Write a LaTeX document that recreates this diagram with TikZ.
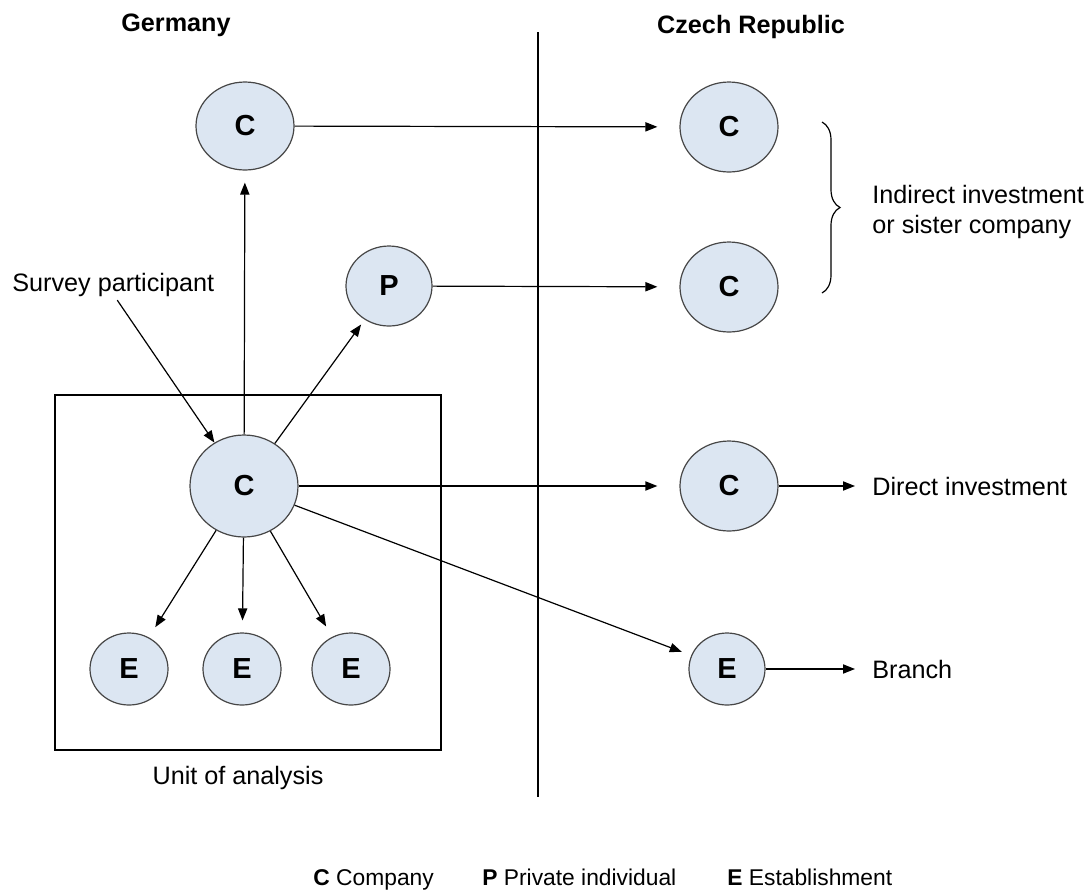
\documentclass[tikz,border=0pt]{standalone}
\usepackage{fontspec}
\setmainfont{Liberation Sans}
\usetikzlibrary{arrows.meta,shapes.geometric,positioning,decorations.pathreplacing}

\definecolor{nodefill}{RGB}{220,230,242}
\definecolor{nodeline}{RGB}{70,70,70}

\tikzset{
  unit/.style={ellipse,draw=nodeline,fill=nodefill,line width=0.6pt,inner sep=0pt,
    font=\fontsize{14.5}{16}\selectfont\bfseries},
  label/.style={font=\fontsize{12.6}{15}\selectfont,inner sep=0pt},
  legend/.style={font=\fontsize{11.4}{14}\selectfont,inner sep=0pt},
  head/.style={font=\fontsize{12.6}{15}\selectfont\bfseries,inner sep=0pt},
  link/.style={-{Triangle[length=6pt,width=4.6pt]},line width=0.6pt}
}

\begin{document}
\begin{tikzpicture}[x=0.5pt,y=-0.5pt]
            \useasboundingbox (0,0) rectangle (1089,891);
            \node[head] (germany) at (176,25) {Germany};
            \node[head] (czech) at (751,27) {Czech Republic};
            \draw[line width=0.6pt] (538,32) -- (538,797);
            \draw[line width=0.6pt] (55,395) rectangle (441,750);
            \node[label] (unit) at (238,778) {Unit of analysis};
            \node[unit,minimum width=49pt,minimum height=44pt] (ctop) at (245,126) {C};
            \node[unit,minimum width=54pt,minimum height=51pt] (cmain) at (244,486) {C};
            \node[unit,minimum width=43pt,minimum height=40pt] (p) at (389,286) {P};
            \node[unit,minimum width=39pt,minimum height=36pt] (e1) at (129,669) {E};
            \node[unit,minimum width=39pt,minimum height=36pt] (e2) at (242,669) {E};
            \node[unit,minimum width=39pt,minimum height=36pt] (e3) at (351,669) {E};
            \node[unit,minimum width=49pt,minimum height=45pt] (cz1) at (729,127) {C};
            \node[unit,minimum width=49pt,minimum height=45pt] (cz2) at (729,287) {C};
            \node[unit,minimum width=49pt,minimum height=45pt] (cz3) at (729,486) {C};
            \node[unit,minimum width=38pt,minimum height=36pt] (ecz) at (727,669) {E};
            \node[label,anchor=west] (survey) at (12,285) {Survey participant};
            \node[label,anchor=west] (direct) at (872,486) {Direct investment};
            \node[label,anchor=west] (branch) at (872,669) {Branch};
            \node[label,anchor=west,align=left] (indirect) at (872,212) {Indirect investment\\or sister company};
            \coordinate (dirend) at (855,486);
            \coordinate (brend) at (855,669);
            \draw[link] ([xshift=2pt,yshift=-1.5pt]survey.south) -- (cmain);
            \draw[link,shorten >=6pt] (cmain) -- (ctop);
            \draw[link,shorten >=3pt] (cmain) -- (p);
            \draw[link,shorten >=11pt] (ctop) -- (cz1);
            \draw[link,shorten >=11pt] (p) -- (cz2);
            \draw[link,shorten >=11pt] (cmain) -- (cz3);
            \draw[link,shorten >=5pt] (cmain) -- (ecz);
            \draw[link,shorten >=6pt] (cmain) -- (e1);
            \draw[link,shorten >=6pt] (cmain) -- (e2);
            \draw[link,shorten >=6pt] (cmain) -- (e3);
            \draw[link] (cz3) -- (dirend);
            \draw[link] (ecz) -- (brend);
            \draw[line width=0.6pt,decorate,decoration={brace,amplitude=9pt}] (822,122) -- (822,293);
            \node[legend,anchor=base west] (legc) at (313,885) {\textbf{C} Company};
            \node[legend,anchor=base west] (legp) at (482,885) {\textbf{P} Private individual};
            \node[legend,anchor=base west] (lege) at (727,885) {\textbf{E} Establishment};
        \end{tikzpicture}
\end{document}
